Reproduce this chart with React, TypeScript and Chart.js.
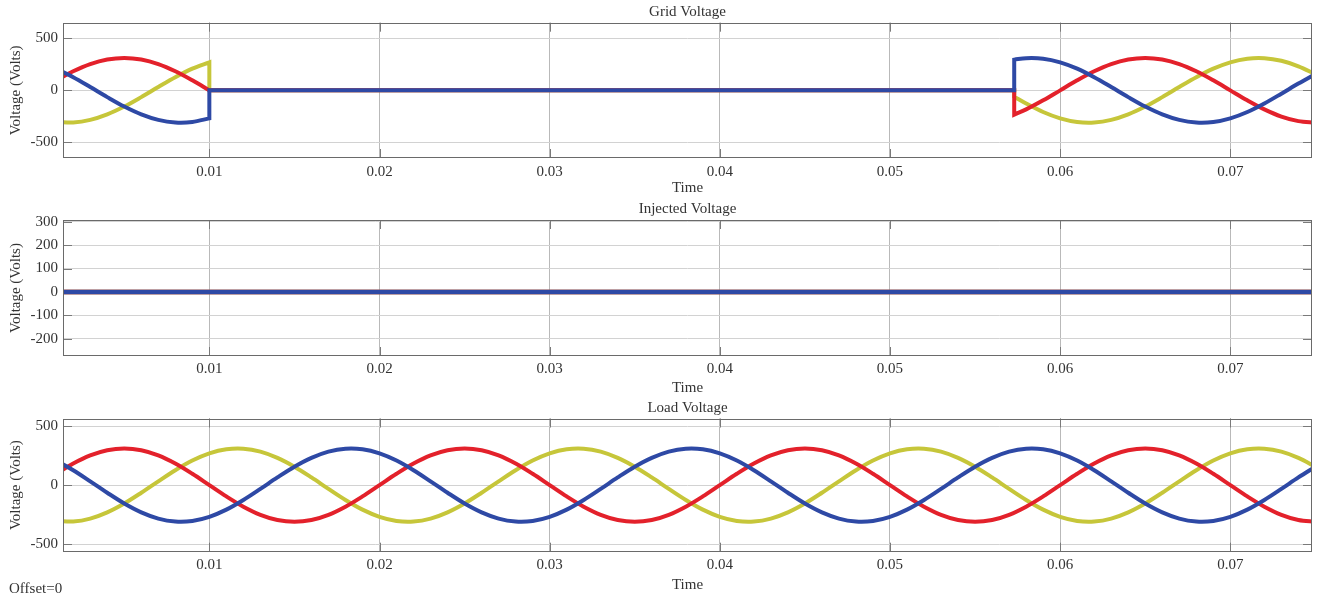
import React, { useEffect, useRef } from "react";
import { Chart, registerables } from "chart.js";

Chart.register(...registerables);

// ---------- data (volts vs seconds) ----------
const X_TICKS = [0.01, 0.02, 0.03, 0.04, 0.05, 0.06, 0.07];
const GRID_Y_TICKS = [-500, 0, 500];
const INJ_Y_TICKS = [-200, -100, 0, 100, 200, 300];
const LOAD_Y_TICKS = [-500, 0, 500];

// Grid voltage: sag (all phases to 0) between 0.010 s and 0.0573 s
const GRID_TIME = [
  0.001, 0.002, 0.003, 0.004, 0.005, 0.006, 0.007, 0.008, 0.009,
  0.01, 0.01, 0.01, 0.01,
  0.0573, 0.0573, 0.0573, 0.0573,
  0.058, 0.059, 0.06, 0.061, 0.062, 0.063, 0.064, 0.065, 0.066, 0.067, 0.068, 0.069,
  0.07, 0.071, 0.072, 0.073, 0.074, 0.075,
];
const GRID_A = [
  96, 183, 252, 296, 311, 296, 252, 183, 96,
  0, 0, 0, 0,
  0, 0, -233, -233,
  -183, -96, 0, 96, 183, 252, 296, 311, 296, 252, 183, 96, 0, -96, -183, -252, -296, -311,
];
const GRID_B = [
  -304, -309, -284, -231, -156, -65, 32, 126, 208,
  269, 269, 0, 0,
  0, 0, -61, -61,
  -126, -208, -269, -304, -309, -284, -231, -156, -65, 32, 126, 208, 269, 304, 309, 284, 231, 156,
];
const GRID_C = [
  208, 126, 32, -65, -156, -231, -284, -309, -304,
  -269, -269, 0, 0,
  0, 0, 295, 295,
  309, 304, 269, 208, 126, 32, -65, -156, -231, -284, -309, -304, -269, -208, -126, -32, 65, 156,
];

// Injected voltage: stays at zero
const INJ_TIME = [0.001, 0.075];
const INJ_A = [0, 0];
const INJ_B = [0, 0];
const INJ_C = [0, 0];

// Load voltage
const LOAD_TIME = [
  0.001, 0.002, 0.003, 0.004, 0.005, 0.006, 0.007, 0.008, 0.009, 0.01,
  0.011, 0.012, 0.013, 0.014, 0.015, 0.016, 0.017, 0.018, 0.019, 0.02,
  0.021, 0.022, 0.023, 0.024, 0.025, 0.026, 0.027, 0.028, 0.029, 0.03,
  0.031, 0.032, 0.033, 0.034, 0.035, 0.036, 0.037, 0.038, 0.039, 0.04,
  0.041, 0.042, 0.043, 0.044, 0.045, 0.046, 0.047, 0.048, 0.049, 0.05,
  0.051, 0.052, 0.053, 0.054, 0.055, 0.056, 0.057, 0.058, 0.059, 0.06,
  0.061, 0.062, 0.063, 0.064, 0.065, 0.066, 0.067, 0.068, 0.069, 0.07,
  0.071, 0.072, 0.073, 0.074, 0.075,
];
const LOAD_A = [
  96, 183, 252, 296, 311, 296, 252, 183, 96, 0,
  -96, -183, -252, -296, -311, -296, -252, -183, -96, 0,
  96, 183, 252, 296, 311, 296, 252, 183, 96, 0,
  -96, -183, -252, -296, -311, -296, -252, -183, -96, 0,
  96, 183, 252, 296, 311, 296, 252, 183, 96, 0,
  -96, -183, -252, -296, -311, -296, -252, -183, -96, 0,
  96, 183, 252, 296, 311, 296, 252, 183, 96, 0,
  -96, -183, -252, -296, -311,
];
const LOAD_B = [
  -304, -309, -284, -231, -156, -65, 32, 126, 208, 269,
  304, 309, 284, 231, 156, 65, -32, -126, -208, -269,
  -304, -309, -284, -231, -156, -65, 32, 126, 208, 269,
  304, 309, 284, 231, 156, 65, -32, -126, -208, -269,
  -304, -309, -284, -231, -156, -65, 32, 126, 208, 269,
  304, 309, 284, 231, 156, 65, -32, -126, -208, -269,
  -304, -309, -284, -231, -156, -65, 32, 126, 208, 269,
  304, 309, 284, 231, 156,
];
const LOAD_C = [
  208, 126, 32, -65, -156, -231, -284, -309, -304, -269,
  -208, -126, -32, 65, 156, 231, 284, 309, 304, 269,
  208, 126, 32, -65, -156, -231, -284, -309, -304, -269,
  -208, -126, -32, 65, 156, 231, 284, 309, 304, 269,
  208, 126, 32, -65, -156, -231, -284, -309, -304, -269,
  -208, -126, -32, 65, 156, 231, 284, 309, 304, 269,
  208, 126, 32, -65, -156, -231, -284, -309, -304, -269,
  -208, -126, -32, 65, 156,
];

// ---------- styles ----------
const FONT = "'Liberation Serif', 'Times New Roman', serif";
const TEXT = "#333333";
const RED = "#e3212b";
const YELLOW = "#c6c63a";
const BLUE = "#2e49a5";
const X_MIN = 0.0014;
const X_MAX = 0.0748;

const frame = {
  id: "frame",
  beforeDatasetsDraw(chart: any) {
    const { ctx, chartArea: a, scales } = chart;
    const L = 9;
    ctx.save();
    ctx.strokeStyle = "#7a7a7a";
    ctx.lineWidth = 1;
    ctx.beginPath();
    for (const t of scales.x.ticks) {
      const px = Math.round(scales.x.getPixelForValue(t.value)) + 0.5;
      ctx.moveTo(px, a.bottom);
      ctx.lineTo(px, a.bottom - L);
      ctx.moveTo(px, a.top);
      ctx.lineTo(px, a.top + L);
    }
    for (const t of scales.y.ticks) {
      const py = Math.round(scales.y.getPixelForValue(t.value)) + 0.5;
      ctx.moveTo(a.left, py);
      ctx.lineTo(a.left + L, py);
      ctx.moveTo(a.right, py);
      ctx.lineTo(a.right - L, py);
    }
    ctx.stroke();
    ctx.restore();
  },
  afterDatasetsDraw(chart: any) {
    const { ctx, chartArea: a } = chart;
    ctx.save();
    ctx.strokeStyle = "#6a6a6a";
    ctx.lineWidth = 1;
    const l = Math.round(a.left) + 0.5;
    const t = Math.round(a.top) + 0.5;
    const r = Math.round(a.right) - 0.5;
    const b = Math.round(a.bottom) - 0.5;
    ctx.strokeRect(l, t, r - l, b - t);
    ctx.restore();
  },
};

type PanelCfg = {
  title: string;
  time: number[];
  a: number[];
  b: number[];
  c: number[];
  yMin: number;
  yMax: number;
  yTicks: number[];
  titlePad: { top: number; bottom: number };
  xAxisHeight: number;
  xTickPad: number;
  timePadBottom: number;
  lineWidth: number;
};

function makeConfig(p: PanelCfg): any {
  const pts = (vals: number[]) => p.time.map((t, i) => ({ x: t, y: vals[i] }));
  const ds = (label: string, vals: number[], color: string) => ({
    label,
    data: pts(vals),
    borderColor: color,
    backgroundColor: color,
    borderWidth: p.lineWidth,
    pointRadius: 0,
    tension: 0.33,
    fill: false,
    clip: 0,
  });
  return {
    type: "line",
    data: {
      datasets: [ds("Phase C", p.c, BLUE), ds("Phase A", p.a, RED), ds("Phase B", p.b, YELLOW)],
    },
    options: {
      responsive: false,
      animation: false,
      devicePixelRatio: 1,
      events: [],
      layout: { padding: { left: 0, right: 5, top: 0, bottom: 0 } },
      plugins: {
        legend: { display: false },
        tooltip: { enabled: false },
        title: {
          display: true,
          text: p.title,
          fullSize: false,
          color: TEXT,
          font: { family: FONT, size: 15, weight: "normal" },
          padding: p.titlePad,
        },
      },
      scales: {
        x: {
          type: "linear",
          min: X_MIN,
          max: X_MAX,
          afterBuildTicks: (s: any) => {
            s.ticks = X_TICKS.map((v) => ({ value: v }));
          },
          afterFit: (s: any) => {
            s.height = p.xAxisHeight;
          },
          ticks: {
            color: TEXT,
            font: { family: FONT, size: 15 },
            padding: p.xTickPad,
            maxRotation: 0,
            autoSkip: false,
            callback: (v: any) => Number(v).toFixed(2),
          },
          grid: { color: "#b9b9b9", lineWidth: 1, drawTicks: false },
          border: { display: false },
          title: {
            display: true,
            text: "Time",
            color: TEXT,
            font: { family: FONT, size: 15 },
            padding: { top: 0, bottom: p.timePadBottom },
          },
        },
        y: {
          type: "linear",
          min: p.yMin,
          max: p.yMax,
          afterBuildTicks: (s: any) => {
            s.ticks = p.yTicks.map((v) => ({ value: v }));
          },
          afterFit: (s: any) => {
            s.width = 63;
          },
          ticks: {
            color: TEXT,
            font: { family: FONT, size: 15 },
            padding: 5,
            autoSkip: false,
            callback: (v: any) => String(v),
          },
          grid: { color: "#d2d2d2", lineWidth: 1, drawTicks: false },
          border: { display: false },
          title: {
            display: true,
            text: "Voltage (Volts)",
            color: TEXT,
            font: { family: FONT, size: 15 },
            padding: { top: 7.5, bottom: 0 },
          },
        },
      },
    },
    plugins: [frame],
  };
}

const PANELS: { top: number; height: number; cfg: PanelCfg }[] = [
  {
    top: 0,
    height: 197,
    cfg: {
      title: "Grid Voltage",
      time: GRID_TIME, a: GRID_A, b: GRID_B, c: GRID_C,
      yMin: -650, yMax: 650, yTicks: GRID_Y_TICKS,
      titlePad: { top: 3, bottom: 1.7 },
      xAxisHeight: 39,
      xTickPad: 5,
      timePadBottom: 0,
      lineWidth: 4,
    },
  },
  {
    top: 197,
    height: 201,
    cfg: {
      title: "Injected Voltage",
      time: INJ_TIME, a: INJ_A, b: INJ_B, c: INJ_C,
      yMin: -273, yMax: 307, yTicks: INJ_Y_TICKS,
      titlePad: { top: 3, bottom: 2 },
      xAxisHeight: 42,
      xTickPad: 4,
      timePadBottom: 1,
      lineWidth: 4.5,
    },
  },
  {
    top: 396,
    height: 200,
    cfg: {
      title: "Load Voltage",
      time: LOAD_TIME, a: LOAD_A, b: LOAD_B, c: LOAD_C,
      yMin: -565, yMax: 565, yTicks: LOAD_Y_TICKS,
      titlePad: { top: 3, bottom: 1.5 },
      xAxisHeight: 44.3,
      xTickPad: 4,
      timePadBottom: 2,
      lineWidth: 4,
    },
  },
];

function Panel({ top, height, cfg }: { top: number; height: number; cfg: PanelCfg }) {
  const ref = useRef<HTMLCanvasElement>(null);
  useEffect(() => {
    const chart = new Chart(ref.current as HTMLCanvasElement, makeConfig(cfg));
    return () => chart.destroy();
  }, []);
  return (
    <canvas
      ref={ref}
      width={1317}
      height={height}
      style={{ position: "absolute", left: 0, top, width: 1317, height, display: "block" }}
    />
  );
}

export default function App() {
  return (
    <div
      style={{
        position: "absolute",
        left: 0,
        top: 0,
        width: 1317,
        height: 596,
        background: "#ffffff",
        overflow: "hidden",
      }}
    >
      {PANELS.map((p, i) => (
        <Panel key={i} top={p.top} height={p.height} cfg={p.cfg} />
      ))}
      <div
        style={{
          position: "absolute",
          left: 9,
          top: 579,
          fontFamily: FONT,
          fontSize: 15,
          lineHeight: "18px",
          color: TEXT,
          whiteSpace: "nowrap",
        }}
      >
        Offset=0
      </div>
    </div>
  );
}
